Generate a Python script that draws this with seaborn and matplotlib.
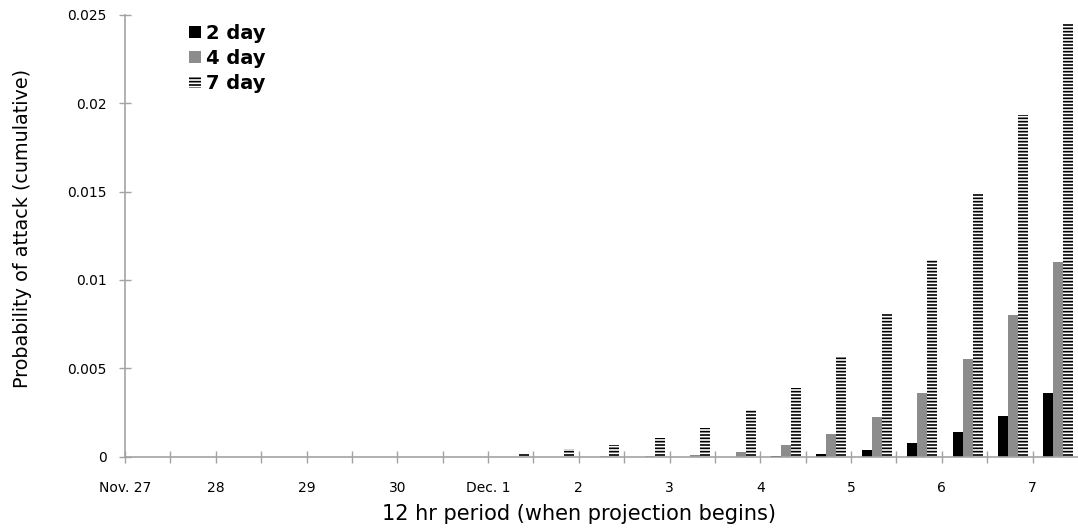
import pandas as pd
import matplotlib.pyplot as plt
import seaborn as sns
from matplotlib.patches import Patch

# day labels on the x axis, two 12 hr periods per day (last day only first half)
day_labels = ['Nov. 27', '28', '29', '30', 'Dec. 1', '2', '3', '4', '5', '6', '7']
periods = [f'{d} {h}' for d in day_labels for h in ('am', 'pm')][:21]

windows = ['2 day', '4 day', '7 day']
two_day = [0, 0, 0, 0, 0, 0, 0, 0, 0, 0, 0, 0, 0, 0,
           0.00003, 0.00013, 0.00034, 0.00076, 0.0014, 0.00231, 0.00362]
four_day = [0, 0, 0, 0, 0, 0, 0, 0, 0, 0,
            0.00001, 0.00003, 0.0001, 0.00028, 0.00066, 0.00126, 0.00222,
            0.00358, 0.00553, 0.008, 0.011]
seven_day = [0, 0, 0, 0, 0, 0, 0,
             0.00005, 0.00015, 0.0004, 0.00065, 0.00103, 0.00163, 0.00262,
             0.00388, 0.00568, 0.00807, 0.01111, 0.0149, 0.01935, 0.0245]

y_ticks = [0, 0.005, 0.01, 0.015, 0.02, 0.025]
y_tick_labels = ['0', '0.005', '0.01', '0.015', '0.02', '0.025']

colors = {'2 day': 'black', '4 day': '#8c8c8c', '7 day': 'white'}
axis_gray = '#a3a3a3'
hatch = '-----'

df = pd.DataFrame({
    'period': periods * 3,
    'window': [w for w in windows for _ in periods],
    'prob': two_day + four_day + seven_day,
})

sns.set_style('white')
plt.rcParams['font.family'] = ['DejaVu Sans']
plt.rcParams['text.color'] = 'black'
plt.rcParams['axes.labelcolor'] = 'black'
plt.rcParams['hatch.linewidth'] = 1.2

W, H = 1078, 531
fig = plt.figure(figsize=(W / 100, H / 100), dpi=100)
ax = fig.add_axes([125 / W, 1 - 456.5 / H, 953 / W, 441.5 / H])

sns.barplot(data=df, x='period', y='prob', hue='window', order=periods,
            hue_order=windows, palette=colors, width=0.66, errorbar=None,
            saturation=1, linewidth=0, legend=False, ax=ax)

# 7 day bars: horizontal stripes
for bar in ax.containers[2]:
    bar.set_facecolor('white')
    bar.set_edgecolor('black')
    bar.set_hatch(hatch)
    bar.set_linewidth(0)

# tick marks sit on the boundaries between periods, labels every other one
shift = 0.066
bounds = [k - 0.5 - shift for k in range(21)]
ax.set_xticks(bounds)
ax.set_xticklabels([day_labels[k // 2] if k % 2 == 0 else '' for k in range(21)])
ax.set_xlim(-0.5 - shift, 20.5 - shift)

ax.set_ylim(0, 0.025)
ax.set_yticks(y_ticks)
ax.set_yticklabels(y_tick_labels)

for s in ['top', 'right']:
    ax.spines[s].set_visible(False)
for s in ['left', 'bottom']:
    ax.spines[s].set_color(axis_gray)
    ax.spines[s].set_linewidth(1.2)

ax.tick_params(axis='both', bottom=True, left=True, direction='inout',
               length=8, width=1, color=axis_gray, labelsize=10,
               labelcolor='black')
ax.tick_params(axis='y', pad=9)
ax.tick_params(axis='x', pad=14)

ax.set_xlabel('12 hr period (when projection begins)', fontsize=15)
ax.xaxis.set_label_coords(579 / W, 1 - 514 / H, transform=fig.transFigure)
ax.xaxis.label.set_verticalalignment('center')
ax.set_ylabel('Probability of attack (cumulative)', fontsize=13.8)
ax.yaxis.set_label_coords(23 / W, 1 - 228 / H, transform=fig.transFigure)
ax.yaxis.label.set_verticalalignment('center')

handles = [Patch(facecolor=colors['2 day'], linewidth=0),
           Patch(facecolor=colors['4 day'], linewidth=0),
           Patch(facecolor='white', edgecolor='black', hatch=hatch, linewidth=0)]
leg = ax.legend(handles, windows, loc='upper left',
                bbox_to_anchor=(189 / W, 1 - 24 / H), bbox_transform=fig.transFigure,
                frameon=False, prop={'weight': 'bold', 'size': 14},
                handlelength=0.6, handleheight=0.6, handletextpad=0.3,
                labelspacing=0.3, borderpad=0, borderaxespad=0)
for t in leg.get_texts():
    t.set_color('black')

fig.savefig('out.png', dpi=100)
